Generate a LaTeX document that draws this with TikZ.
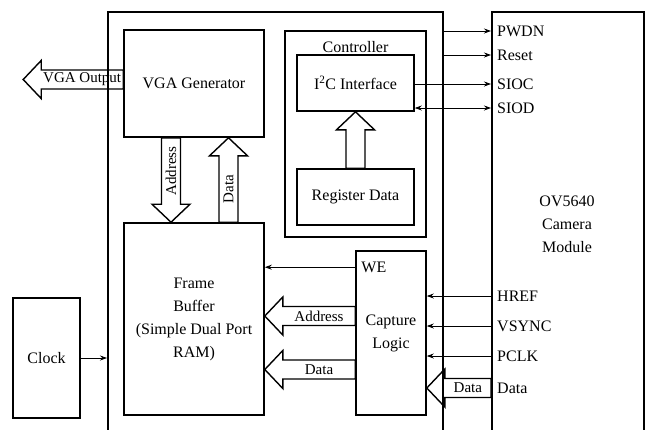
\documentclass[tikz,border=0pt]{standalone}
\usepackage{fontspec}
\setmainfont{Liberation Serif}
\usetikzlibrary{calc,arrows.meta,positioning}

\tikzset{
  block/.style={draw, line width=1.6pt, align=center, inner sep=2pt,
    font=\rmfamily\fontsize{16}{23}\selectfont},
  frame/.style={draw, line width=1.6pt, anchor=north west, inner sep=0pt},
  sig/.style={line width=0.8pt, -{Stealth[length=7pt,width=5pt]}},
  bus/.style={line width=1.4pt, line join=miter},
  buslabel/.style={inner sep=0pt, font=\rmfamily\fontsize{15}{18}\selectfont},
  port/.style={anchor=west, inner sep=0pt, font=\rmfamily\fontsize{16}{19}\selectfont},
}

% hollow bus arrow: #1 name, #2 tail, #3 tip
\newcommand{\busarrow}[3]{%
  \coordinate (#1-t) at (#2);
  \coordinate (#1-h) at (#3);
  \coordinate (#1-b) at ($(#1-h)!18pt!(#1-t)$);
  \draw[bus] ($(#1-t)!9.5pt!90:(#1-h)$) -- ($(#1-b)!9.5pt!90:(#1-h)$)
    -- ($(#1-b)!19pt!90:(#1-h)$) -- (#1-h) -- ($(#1-b)!19pt!-90:(#1-h)$)
    -- ($(#1-b)!9.5pt!-90:(#1-h)$) -- ($(#1-t)!9.5pt!-90:(#1-h)$) -- cycle;
}

\begin{document}
\begin{tikzpicture}[x=1pt,y=-1pt]
\useasboundingbox (0,0) rectangle (645,429);
\clip (0,0) rectangle (645,429);

%%% boxes

% fpga and camera
\node[frame, minimum width=335, minimum height=434] (fpga) at (107,11) {};
\node[frame, minimum width=152, minimum height=434] (cam) at (491,11) {};
\node[block, draw=none] (camtitle) at (567,224) {OV5640\\Camera\\Module};

% inside the fpga
\node[block, minimum width=140, minimum height=107] (vga) at (194,83.5) {VGA Generator};
\node[block, minimum width=140, minimum height=192] (fb) at (194,319)
  {Frame\\Buffer\\(Simple Dual Port\\RAM)};
\node[block, minimum width=141, minimum height=206] (ctrl) at (355.5,134) {};
\node[block, draw=none, inner sep=0pt] (ctrltitle) at ($(ctrl.north)+(0,17)$) {Controller};
\node[block, minimum width=117, minimum height=56] (i2c) at (355.5,83) {I\textsuperscript{2}C Interface};
\node[block, minimum width=117, minimum height=56] (reg) at (355.5,197) {Register Data};
\node[block, minimum width=70, minimum height=164] (cap) at (391,333) {Capture\\Logic};
\node[port] (we) at ($(cap.north west)+(6,17)$) {WE};

% clock
\node[block, minimum width=67, minimum height=120] (clk) at (46.5,358) {Clock};

%%% camera pins

\node[port] (pwdn) at ($(cam.north west)+(6,20)$) {PWDN};
\node[port] (reset) at ($(cam.north west)+(6,44)$) {Reset};
\node[port] (sioc) at ($(cam.north west)+(6,73)$) {SIOC};
\node[port] (siod) at ($(cam.north west)+(6,97)$) {SIOD};
\node[port] (href) at ($(cam.north west)+(6,285)$) {HREF};
\node[port] (vsync) at ($(cam.north west)+(6,315)$) {VSYNC};
\node[port] (pclk) at ($(cam.north west)+(6,345)$) {PCLK};
\node[port] (pdata) at ($(cam.north west)+(6,377)$) {Data};

%%% liens

\draw[sig] (fpga.east |- pwdn) -- (cam.west |- pwdn);
\draw[sig] (fpga.east |- reset) -- (cam.west |- reset);
\draw[sig] (i2c.east |- sioc) -- (cam.west |- sioc);
\draw[sig, {Stealth[length=7pt,width=5pt]}-{Stealth[length=7pt,width=5pt]}] (i2c.east |- siod) -- (cam.west |- siod);
\draw[sig] (cam.west |- href) -- (cap.east |- href);
\draw[sig] (cam.west |- vsync) -- (cap.east |- vsync);
\draw[sig] (cam.west |- pclk) -- (cap.east |- pclk);
\draw[sig] (cap.west |- we) -- (fb.east |- we);
\draw[sig] (clk.east) -- (fpga.west |- clk.east);

%%% bus

\coordinate (vgaout) at ($(vga.west)+(-100,-4)$);
\busarrow{vout}{vga.west |- vgaout}{vgaout}
\busarrow{vaddr}{$(vga.south)+(-23,0)$}{$(fb.north)+(-23,0)$}
\busarrow{vdata}{$(fb.north)+(34.5,0)$}{$(vga.south)+(34.5,0)$}
\busarrow{regbus}{reg.north}{i2c.south}
\busarrow{waddr}{$(cap.west)+(0,-17)$}{$(fb.east |- cap.west)+(0,-17)$}
\busarrow{wdata}{$(cap.west)+(0,36.5)$}{$(fb.east |- cap.west)+(0,36.5)$}
\busarrow{cdata}{cam.west |- pdata}{cap.east |- pdata}

\node[buslabel] (voutlbl) at ($(vout-t)!0.5!(vout-b)$) {VGA Output};
\node[buslabel, rotate=90] (vaddrlbl) at ($(vaddr-t)!0.5!(vaddr-b)$) {Address};
\node[buslabel, rotate=90] (vdatalbl) at ($(vdata-t)!0.5!(vdata-b)$) {Data};
\node[buslabel] (waddrlbl) at ($(waddr-t)!0.5!(waddr-b)$) {Address};
\node[buslabel] (wdatalbl) at ($(wdata-t)!0.5!(wdata-b)$) {Data};
\node[buslabel] (cdatalbl) at ($(cdata-t)!0.5!(cdata-b)$) {Data};
\end{tikzpicture}
\end{document}
